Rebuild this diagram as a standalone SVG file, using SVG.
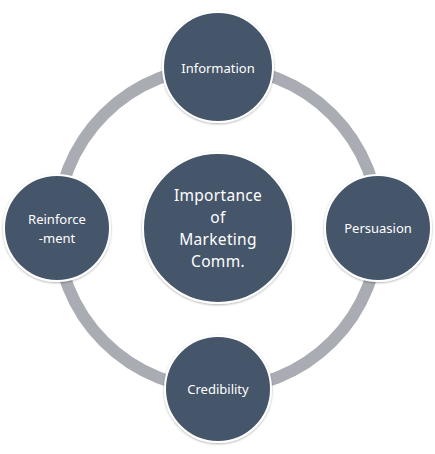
<svg xmlns="http://www.w3.org/2000/svg" width="435" height="454" viewBox="0 0 435 454">
<defs>
<filter id="sh" x="-20%" y="-20%" width="140%" height="140%">
<feDropShadow dx="0" dy="1" stdDeviation="1.2" flood-color="#000" flood-opacity="0.3"/>
</filter>
<style>
.node{fill:#44546A;stroke:#FFFFFF;stroke-width:2;filter:url(#sh)}
.t{font-family:"Comic Sans MS","Noto Sans","DejaVu Sans",sans-serif;fill:#FFFFFF;text-anchor:middle}
.c{font-size:15.5px;letter-spacing:0.3px}
</style>
</defs>
<rect width="435" height="454" fill="#FFFFFF"/>
<g id="connectors">
<circle cx="218" cy="228" r="161" fill="none" stroke="#A9ACB3" stroke-width="12"/>
</g>
<g id="center">
<circle class="node" cx="218" cy="228" r="75"/>
<text class="t c" x="218" y="201">Importance</text>
<text class="t c" x="218" y="223">of</text>
<text class="t c" x="218" y="245">Marketing</text>
<text class="t c" x="218" y="267">Comm.</text>
</g>
<g id="information">
<circle class="node" cx="218" cy="67" r="55"/>
<text class="t" x="218" y="73" font-size="13">Information</text>
</g>
<g id="persuasion">
<circle class="node" cx="378" cy="228" r="53"/>
<text class="t" x="378" y="233" font-size="13">Persuasion</text>
</g>
<g id="credibility">
<circle class="node" cx="218" cy="389" r="53"/>
<text class="t" x="218" y="394" font-size="13">Credibility</text>
</g>
<g id="reinforcement">
<circle class="node" cx="57" cy="228" r="53"/>
<text class="t" x="57" y="224" font-size="13">Reinforce</text>
<text class="t" x="57" y="243" font-size="13">-ment</text>
</g>
</svg>
